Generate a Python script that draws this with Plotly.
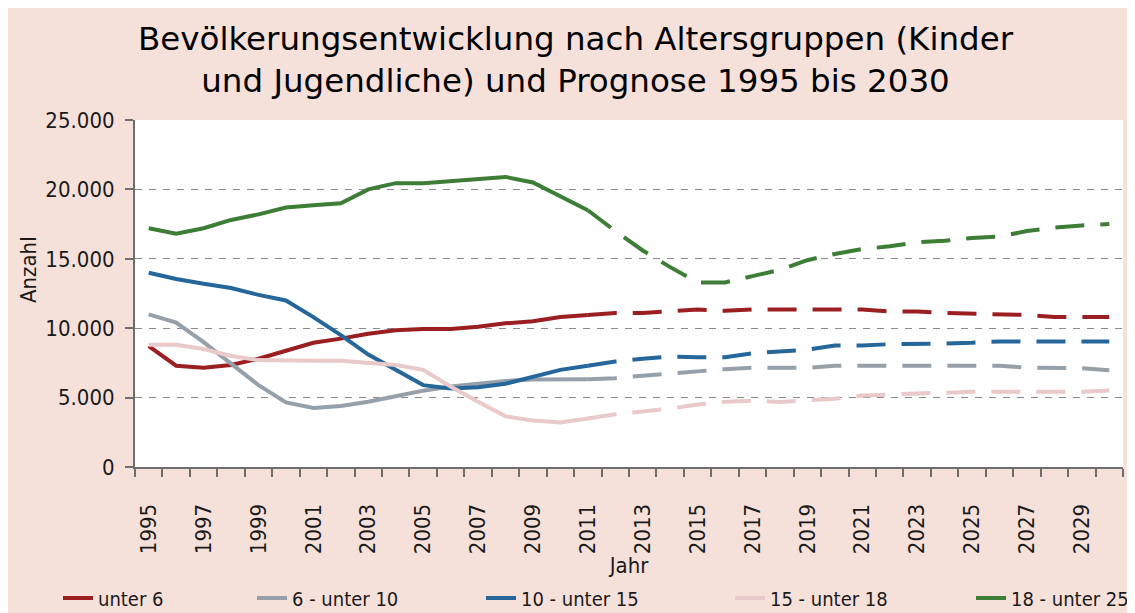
import plotly.graph_objects as go

years = list(range(1995, 2031))
prognose_start = 2011

series_names = ["unter 6", "6 - unter 10", "10 - unter 15", "15 - unter 18", "18 - unter 25"]

unter_6 = [8700, 7300, 7150, 7350, 7800, 8400, 8950, 9250, 9600, 9850, 9950, 9950,
           10100, 10350, 10500, 10800, 10950, 11100, 11100, 11250, 11350, 11250,
           11350, 11350, 11350, 11350, 11350, 11200, 11200, 11100, 11050, 10950,
           10950, 10800, 10800, 10800]
u6_10 = [11000, 10400, 9000, 7450, 5900, 4650, 4250, 4400, 4700, 5100, 5500, 5800,
         6000, 6200, 6300, 6300, 6320, 6400, 6580, 6750, 6950, 7050, 7150, 7150,
         7150, 7300, 7300, 7300, 7300, 7300, 7300, 7300, 7150, 7150, 7120, 6970]
u10_15 = [14000, 13550, 13200, 12900, 12400, 12000, 10800, 9500, 8100, 7000, 5900,
          5650, 5750, 6000, 6500, 7000, 7300, 7600, 7800, 7950, 7900, 7900, 8200,
          8300, 8450, 8750, 8750, 8850, 8850, 8900, 8950, 9050, 9050, 9050, 9050, 9050]
u15_18 = [8800, 8800, 8500, 8000, 7700, 7650, 7650, 7650, 7500, 7350, 7000, 5800,
          4700, 3650, 3350, 3200, 3500, 3800, 4000, 4200, 4500, 4700, 4780, 4680,
          4800, 4920, 5150, 5250, 5300, 5350, 5430, 5430, 5430, 5430, 5430, 5520]
u18_25 = [17200, 16800, 17200, 17800, 18200, 18700, 18850, 19000, 20000, 20450,
          20450, 20600, 20750, 20900, 20500, 19500, 18500, 17000, 15600, 14400,
          13300, 13300, 13750, 14200, 14900, 15350, 15700, 15900, 16200, 16300,
          16500, 16600, 17000, 17250, 17400, 17500]

colors = ["#9B1E20", "#96A0AA", "#25679A", "#E9C9C9", "#3D7D36"]
all_series = [unter_6, u6_10, u10_15, u15_18, u18_25]

tick_years = list(range(1995, 2031, 2))
y_ticks = [0, 5000, 10000, 15000, 20000, 25000]

# left pixel positions of the legend entries
legend_x_px = [50, 244, 473, 722, 963]

BG = "#F6E1DA"
FONT = "Liberation Sans Narrow, DejaVu Sans Condensed, sans-serif"
W, H = 1135, 613

fig = go.Figure()
split = years.index(prognose_start)
legend_ids = ["legend", "legend2", "legend3", "legend4", "legend5"]
for name, vals, col, lid in zip(series_names, all_series, colors, legend_ids):
    fig.add_trace(go.Scatter(
        x=years[:split + 1], y=vals[:split + 1], mode="lines", name=name,
        legendgroup=name, legend=lid, line=dict(color=col, width=4),
    ))
    fig.add_trace(go.Scatter(
        x=years[split:], y=vals[split:], mode="lines", name=name,
        legendgroup=name, legend=lid, showlegend=False,
        line=dict(color=col, width=4, dash="29px,16px"),
    ))

legend_common = dict(
    orientation="h", xanchor="left", y=1 - 590 / H, yanchor="middle",
    xref="container", yref="container", font=dict(family=FONT, size=20),
    bgcolor="rgba(0,0,0,0)", borderwidth=0,
)
layout_legends = {}
for lid, px in zip(legend_ids, legend_x_px):
    layout_legends[lid] = dict(legend_common, x=px / W)

fig.update_layout(
    width=W, height=H,
    paper_bgcolor=BG, plot_bgcolor="white",
    margin=dict(l=127, r=20, t=112, b=154, autoexpand=False),
    separators=",.",
    font=dict(family=FONT, size=22, color="#1a1a1a"),
    title=dict(
        text="Bevölkerungsentwicklung nach Altersgruppen (Kinder<br>und Jugendliche) und Prognose 1995 bis 2030",
        font=dict(family="DejaVu Sans", size=32.5, color="black"),
        x=0.5, xanchor="center", y=1 - 42 / H, yanchor="middle",
    ),
    showlegend=True,
    annotations=[dict(
        text="Anzahl", textangle=-90, xref="paper", yref="paper",
        x=(20 - 127) / 988, y=1 - (262 - 112) / 347,
        xanchor="center", yanchor="middle", showarrow=False,
        font=dict(family=FONT, size=22, color="#1a1a1a"),
    )],
    **layout_legends,
)

fig.update_xaxes(
    range=[1994.5, 2030.5], tickmode="array", tickvals=tick_years,
    ticktext=[str(y) for y in tick_years], tickangle=-90,
    ticks="", showgrid=False, showline=True, linecolor="#6E6E6E", linewidth=2,
    minor=dict(tickmode="linear", tick0=1994.5, dtick=1, ticks="outside",
               ticklen=8, tickcolor="#6E6E6E", tickwidth=1.5, showgrid=False),
    tickfont=dict(family=FONT, size=22),
    ticklabelstandoff=26,
    title=dict(text="Jahr", font=dict(family=FONT, size=22), standoff=0),
    zeroline=False, automargin=False,
)
fig.update_yaxes(
    range=[0, 25000], tickmode="array", tickvals=y_ticks, tickformat=",d",
    ticks="outside", ticklen=8, tickcolor="#6E6E6E", tickwidth=1.5,
    showline=True, linecolor="#6E6E6E", linewidth=2,
    showgrid=True, gridcolor="#8A8A8A", gridwidth=1.3, griddash="7px,7px",
    tickfont=dict(family=FONT, size=22),
    ticklabelstandoff=6,
    zeroline=False, automargin=False,
)

fig.write_html("out.html")
